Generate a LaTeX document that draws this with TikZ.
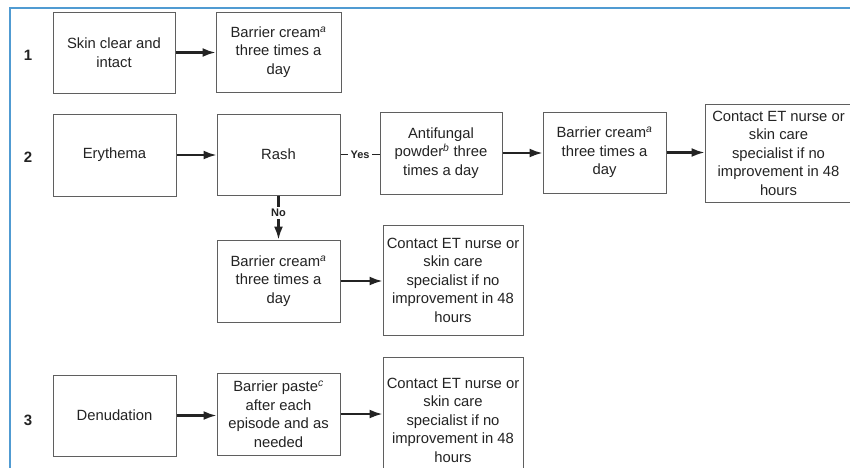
\documentclass[tikz,border=0pt]{standalone}
\usepackage{fontspec}
\setmainfont{Liberation Sans}
\usetikzlibrary{arrows.meta}
\definecolor{frameblue}{RGB}{80,155,210}
\definecolor{boxline}{RGB}{95,95,95}
\definecolor{inkc}{RGB}{35,35,35}
\tikzset{
  stepbox/.style={draw=boxline, line width=1pt, text=inkc, align=center,
    inner sep=2pt, font=\fontsize{14.8}{18.5}\selectfont},
  flow/.style={draw=inkc, line width=2.1pt, -{Latex[length=13pt,width=9pt]}},
  plainflow/.style={draw=inkc, line width=1.6pt},
  lbl/.style={font=\bfseries\fontsize{11}{13}\selectfont, text=inkc, fill=white, inner sep=2.5pt},
  num/.style={font=\bfseries\fontsize{15}{18}\selectfont, text=inkc}
}
\newcommand{\supi}[1]{\textsuperscript{\itshape #1}}
\begin{document}
\begin{tikzpicture}[x=1pt,y=-1pt]
\useasboundingbox (0,0) rectangle (850,467);
\clip (0,0) rectangle (850,467);
\fill[white] (0,0) rectangle (850,467);
\draw[frameblue, line width=1.5pt] (10,470) -- (10,8) -- (852,8);

% row numbers
\node[num] (n1) at (28,55) {1};
\node[num] (n2) at (28,157) {2};
\node[num] (n3) at (28,420) {3};

% row 1
\node[stepbox, minimum width=122pt, minimum height=81pt] (a1) at (114,52.5) {Skin clear and\\intact};
\node[stepbox, minimum width=125pt, minimum height=80pt] (b1) at (278.5,52) {Barrier cream\supi{a}\\three times a\\day};

% row 2
\node[stepbox, minimum width=123pt, minimum height=82pt] (ery) at (114.5,155) {Erythema};
\node[stepbox, minimum width=123pt, minimum height=81pt] (rash) at (278.5,154.5) {Rash};
\node[stepbox, minimum width=122pt, minimum height=82pt] (af) at (441,153) {Antifungal\\powder\supi{b} three\\times a day};
\node[stepbox, minimum width=123pt, minimum height=81pt] (bc2) at (604.5,152.5) {Barrier cream\supi{a}\\three times a\\day};
\node[stepbox, minimum width=147pt, minimum height=98pt] (c2) at (778.5,153) {Contact ET nurse or\\skin care\\specialist if no\\improvement in 48\\hours};

% row 2b
\node[stepbox, minimum width=123pt, minimum height=82pt] (bc3) at (278.5,281) {Barrier cream\supi{a}\\three times a\\day};
\node[stepbox, minimum width=140pt, minimum height=110pt] (c3) at (453,280) {Contact ET nurse or\\skin care\\specialist if no\\improvement in 48\\hours};

% row 3
\node[stepbox, minimum width=123pt, minimum height=81pt] (den) at (114.5,415.5) {Denudation};
\node[stepbox, minimum width=123pt, minimum height=82pt] (bp) at (278.5,414) {Barrier paste\supi{c}\\after each\\episode and as\\needed};
\node[stepbox, minimum width=140pt, minimum height=126pt] (c4) at (453,420) {Contact ET nurse or\\skin care\\specialist if no\\improvement in 48\\hours};

% connectors
\draw[flow] (a1.east) -- (a1.east -| b1.west);
\draw[flow] (ery.east) -- (ery.east -| rash.west);
\draw[plainflow] (rash.east) -- node[lbl] {Yes} (rash.east -| af.west);
\draw[flow] (af.east) -- (af.east -| bc2.west);
\draw[flow] (bc2.east) -- (bc2.east -| c2.west);
\draw[flow] (rash.south) -- node[lbl, pos=0.4] {No} (bc3.north);
\draw[flow] (bc3.east) -- (bc3.east -| c3.west);
\draw[flow] (den.east) -- (den.east -| bp.west);
\draw[flow] (bp.east) -- (bp.east -| c4.west);
\end{tikzpicture}
\end{document}
